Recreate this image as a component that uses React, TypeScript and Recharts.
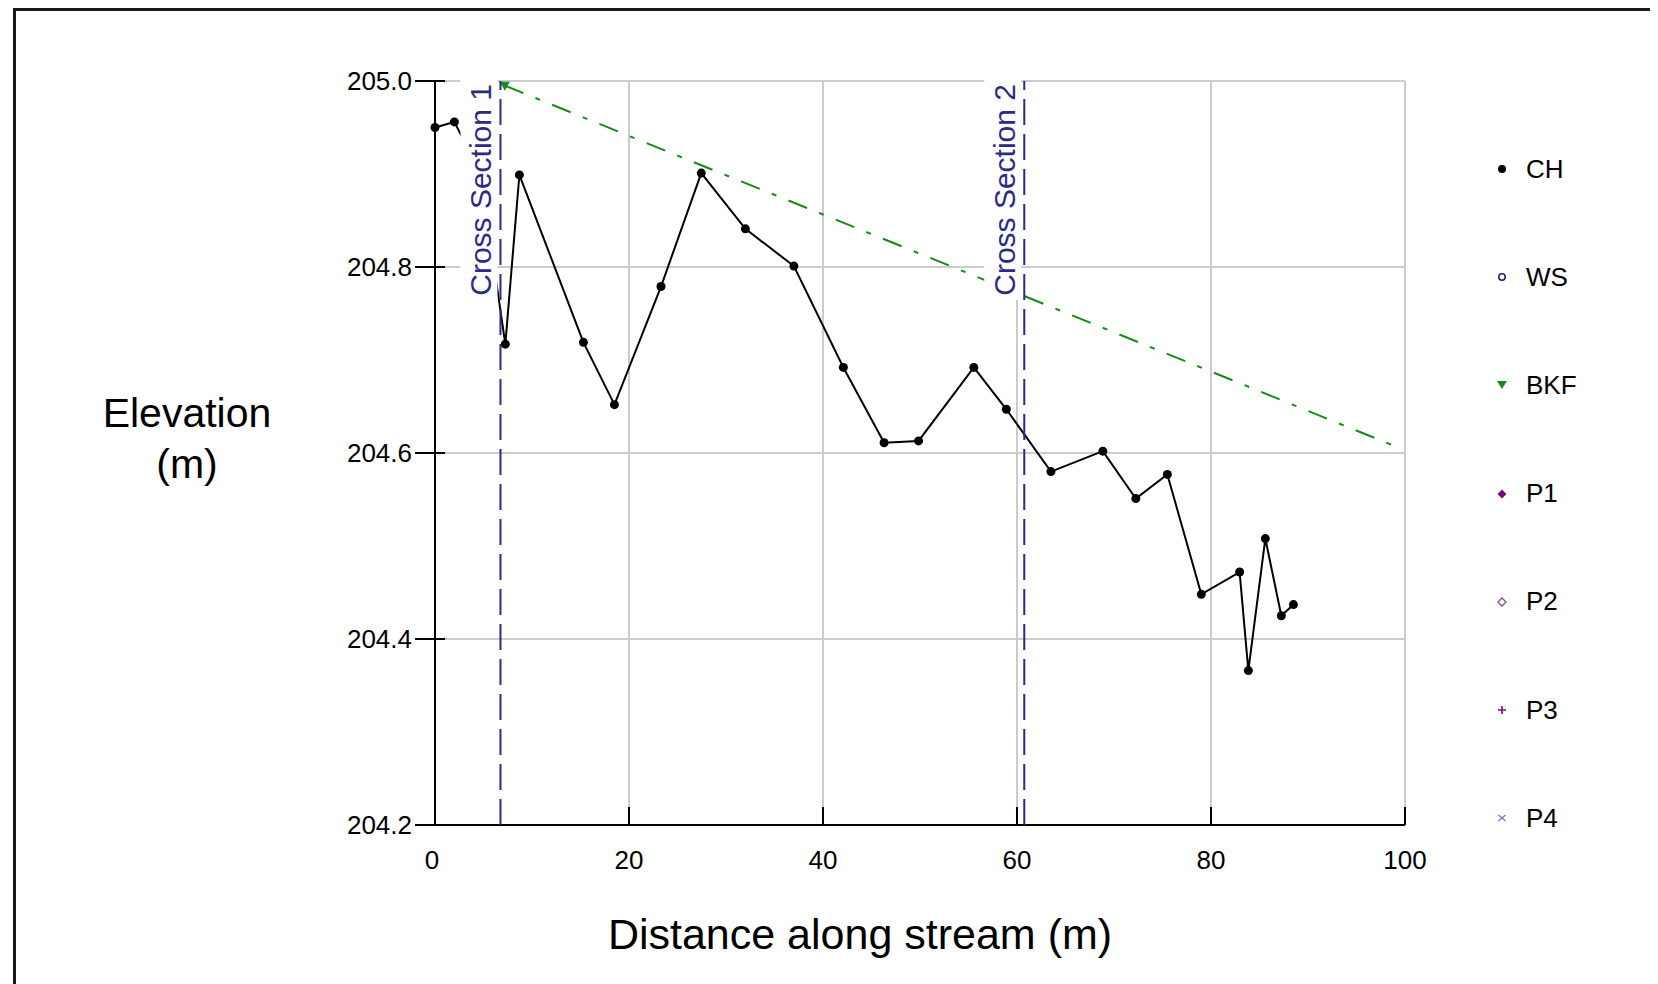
import React from 'react';
import {
  LineChart,
  Line,
  XAxis,
  YAxis,
  CartesianGrid,
  ReferenceLine,
  Legend,
} from 'recharts';

// channel bed profile (CH)
const chDistance = [
  0, 2.0, 4.7, 7.25, 8.7, 15.3, 18.5, 23.3, 27.45, 32.0, 37.0, 42.1, 46.3, 49.85,
  55.55, 58.9, 63.5, 68.85, 72.25, 75.5, 79.0, 82.95, 83.85, 85.6, 87.25, 88.5,
];
const chElevation = [
  204.95, 204.956, 204.9, 204.717, 204.899, 204.719, 204.652, 204.779, 204.901, 204.841,
  204.801, 204.692, 204.611, 204.613, 204.692, 204.647, 204.58, 204.602, 204.551, 204.577,
  204.448, 204.472, 204.366, 204.508, 204.425, 204.437,
];

// bankfull line (BKF)
const bkfDistance = [7.2, 99.3];
const bkfElevation = [204.995, 204.606];

// cross section positions
const crossSectionX = [6.75, 60.75];
const crossSectionNames = ['Cross Section 1', 'Cross Section 2'];

const xTicks = [0, 20, 40, 60, 80, 100];
const yTicks = [204.2, 204.4, 204.6, 204.8, 205.0];

const legendNames = ['CH', 'WS', 'BKF', 'P1', 'P2', 'P3', 'P4'];
const legendColors = ['#000000', '#1c1c80', '#178a17', '#7a0a7a', '#8e4a96', '#7a0a7a', '#9a6aa6'];
const legendShapes = ['dot', 'ring', 'triangle', 'diamond', 'diamondOpen', 'plus', 'cross'];

const FONT = '"Liberation Sans", Arial, sans-serif';
const NAVY = '#2b2b83';

const chData = chDistance.map((x, i) => ({ x, y: chElevation[i] }));
const bkfData = bkfDistance.map((x, i) => ({ x, y: bkfElevation[i] }));

function XTick({ x, y, payload }: any) {
  return (
    <g>
      {payload.value !== 0 && (
        <line x1={x} x2={x} y1={y - 18} y2={y} stroke="#000" strokeWidth={2} />
      )}
      <text x={payload.value === 0 ? x - 3 : x} y={y + 44} textAnchor="middle" fontSize={26} fontFamily={FONT} fill="#000">
        {payload.value}
      </text>
    </g>
  );
}

function YTick({ x, y, payload }: any) {
  return (
    <g>
      <line x1={x - 20} x2={x + 10} y1={y} y2={y} stroke="#000" strokeWidth={2} />
      <text x={x - 23} y={y + 9} textAnchor="end" fontSize={26} fontFamily={FONT} fill="#000">
        {Number(payload.value).toFixed(1)}
      </text>
    </g>
  );
}

function CrossLabel({ viewBox, text }: any) {
  if (!viewBox) return null;
  const lx = viewBox.x;
  const top = viewBox.y;
  return (
    <g>
      <rect x={lx - 40} y={top - 2} width={37} height={221} fill="#fff" />
      <text
        transform={`translate(${lx - 9},${top + 3}) rotate(-90)`}
        textAnchor="end"
        fontSize={30}
        fontFamily={FONT}
        fill={NAVY}
      >
        {text}
      </text>
    </g>
  );
}

function BkfDot({ cx, cy, index }: any) {
  if (index !== 0) return null;
  return <path d={`M${cx - 5},${cy - 4} L${cx + 5},${cy - 4} L${cx},${cy + 5} Z`} fill="#178a17" />;
}

function LegendIcon({ shape, color }: { shape: string; color: string }) {
  return (
    <svg width={12} height={12} viewBox="0 0 12 12" style={{ display: 'block' }}>
      {shape === 'dot' && <circle cx={6} cy={6} r={4} fill={color} />}
      {shape === 'ring' && <circle cx={6} cy={6} r={3.2} fill="none" stroke={color} strokeWidth={1.5} />}
      {shape === 'triangle' && <path d="M1,2 L11,2 L6,10 Z" fill={color} />}
      {shape === 'diamond' && <path d="M6,1.5 L10.5,6 L6,10.5 L1.5,6 Z" fill={color} />}
      {shape === 'diamondOpen' && (
        <path d="M6,2 L10,6 L6,10 L2,6 Z" fill="none" stroke={color} strokeWidth={1.3} />
      )}
      {shape === 'plus' && (
        <path d="M6,2 L6,10 M2,6 L10,6" stroke={color} strokeWidth={1.6} />
      )}
      {shape === 'cross' && (
        <path d="M2.5,3 L9.5,9 M9.5,3 L2.5,9" stroke={color} strokeWidth={1.3} />
      )}
    </svg>
  );
}

function LegendBox() {
  return (
    <div style={{ fontFamily: FONT, fontSize: 26, color: '#000' }}>
      {legendNames.map((name, i) => (
        <div key={name} style={{ display: 'flex', alignItems: 'center', height: 108.2 }}>
          <LegendIcon shape={legendShapes[i]} color={legendColors[i]} />
          <span style={{ marginLeft: 18 }}>{name}</span>
        </div>
      ))}
    </div>
  );
}

export default function App() {
  return (
    <div style={{ position: 'relative', width: 1650, height: 976, background: '#fff' }}>
      <div
        style={{
          position: 'absolute',
          left: 5,
          top: 0,
          width: 1645,
          height: 976,
          borderLeft: '3px solid #1a1a1a',
          borderTop: '3px solid #1a1a1a',
          boxSizing: 'border-box',
        }}
      />
      <LineChart
        width={1650}
        height={976}
        margin={{ top: 73, right: 253, bottom: 0, left: 0 }}
        style={{ position: 'absolute', left: 0, top: 0 }}
      >
        <CartesianGrid stroke="#cccccc" strokeWidth={2} />
        <XAxis
          type="number"
          dataKey="x"
          domain={[0, 100]}
          ticks={xTicks}
          height={159}
          tickSize={0}
          tickMargin={0}
          tickLine={false}
          axisLine={{ stroke: '#000', strokeWidth: 2 }}
          tick={<XTick />}
          label={{
            content: () => (
              <text x={852} y={941} textAnchor="middle" fontSize={43} fontFamily={FONT} fill="#000">
                Distance along stream (m)
              </text>
            ),
          }}
        />
        <YAxis
          type="number"
          dataKey="y"
          domain={[204.2, 205.0]}
          ticks={yTicks}
          width={427}
          tickSize={0}
          tickMargin={0}
          tickLine={false}
          axisLine={{ stroke: '#000', strokeWidth: 2 }}
          tick={<YTick />}
          label={{
            content: () => (
              <text textAnchor="middle" fontSize={41} fontFamily={FONT} fill="#000">
                <tspan x={179} y={419}>Elevation</tspan>
                <tspan x={179} y={470}>(m)</tspan>
              </text>
            ),
          }}
        />
        <Line
          data={bkfData}
          dataKey="y"
          name="BKF"
          type="linear"
          stroke="#178a17"
          strokeWidth={2}
          strokeDasharray="20 13 5 13"
          dot={<BkfDot />}
          activeDot={false}
          isAnimationActive={false}
        />
        <Line
          data={chData}
          dataKey="y"
          name="CH"
          type="linear"
          stroke="#000"
          strokeWidth={2}
          dot={{ r: 4.5, fill: '#000', stroke: 'none' }}
          activeDot={false}
          isAnimationActive={false}
        />
        {crossSectionX.map((cx, i) => (
          <ReferenceLine
            key={cx}
            x={cx}
            stroke={NAVY}
            strokeWidth={2}
            strokeDasharray="26 9"
            zIndex={2500}
            label={<CrossLabel text={crossSectionNames[i]} />}
          />
        ))}
        <Legend
          layout="vertical"
          align="center"
          verticalAlign="middle"
          wrapperStyle={{ left: 1488, top: 107, width: 140 }}
          content={() => <LegendBox />}
        />
      </LineChart>
    </div>
  );
}
